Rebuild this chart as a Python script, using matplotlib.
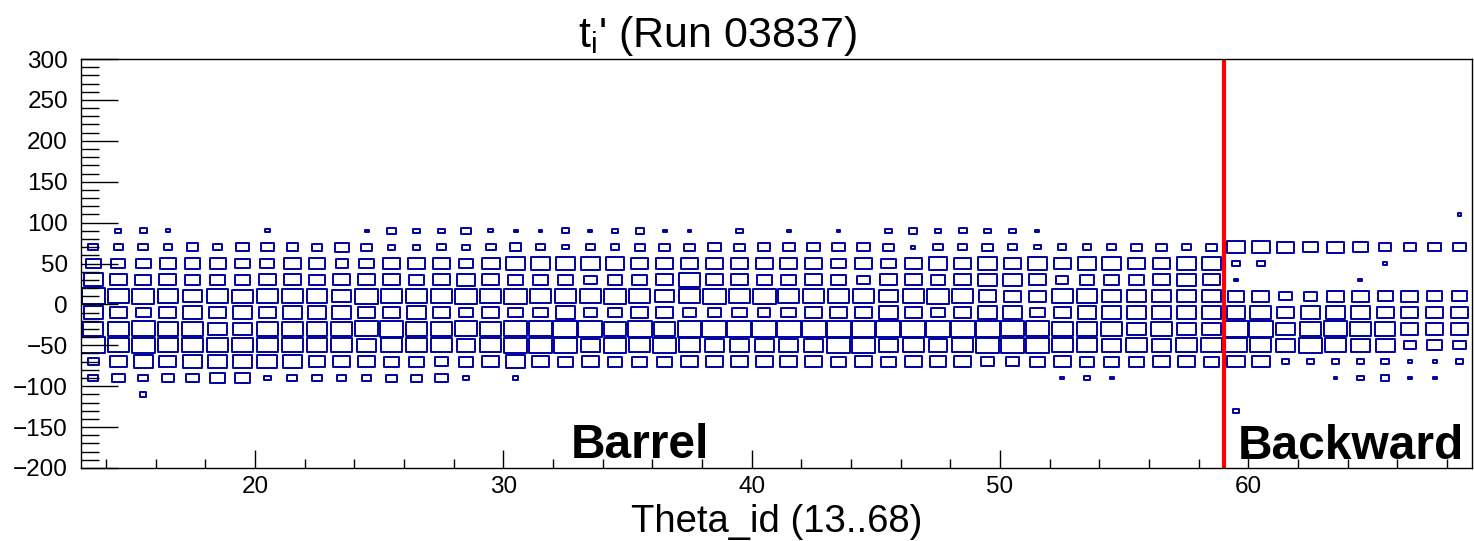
import numpy as np
import matplotlib
matplotlib.use("Agg")
import matplotlib.pyplot as plt
from matplotlib.patches import Rectangle
from matplotlib.collections import PatchCollection
from matplotlib.ticker import MultipleLocator

plt.rcParams["font.family"] = ["Liberation Sans", "DejaVu Sans"]
plt.rcParams["mathtext.fontset"] = "custom"
plt.rcParams["mathtext.rm"] = "Liberation Sans"
plt.rcParams["mathtext.it"] = "Liberation Sans:italic"

# theta_id bins 13..68, t' bins of width 20 (centres below)
theta_ids = np.arange(13, 69)
t_centers = [110, 90, 70, 50, 30, 10, -10, -30, -50, -70, -90, -110, -130]

# relative bin contents (percent of max), one list per t' row, theta 13..68
row_p110 = [0] * 55 + [15]
row_p90 = [0, 25, 28, 18, 0, 0, 0, 18, 0, 0,
           0, 15, 38, 27, 27, 38, 20, 15, 15, 30,
           15, 27, 35, 15, 15, 0, 27, 0, 15, 0,
           15, 0, 27, 35, 27, 30, 27, 27, 15, 0,
           0, 0, 0, 0, 0, 0, 0, 0, 0, 0,
           0, 0, 0, 0, 0, 0]
row_p70 = [40, 35, 40, 35, 45, 35, 50, 50, 45, 43,
           54, 43, 30, 30, 35, 30, 38, 46, 34, 27,
           35, 35, 43, 43, 43, 51, 43, 51, 51, 51,
           51, 51, 43, 19, 38, 35, 43, 35, 27, 35,
           35, 35, 43, 43, 35, 43, 70, 70, 68, 60,
           68, 60, 51, 51, 51, 51]
row_p50 = [60, 55, 60, 62, 62, 65, 60, 57, 68, 68,
           49, 60, 68, 70, 68, 60, 70, 76, 76, 76,
           76, 76, 68, 68, 68, 68, 68, 68, 68, 68,
           60, 68, 60, 68, 76, 68, 76, 68, 76, 68,
           76, 76, 68, 68, 76, 76, 35, 30, 0, 0,
           0, 0, 15, 0, 0, 0]
row_p30 = [78, 68, 62, 68, 60, 60, 58, 68, 68, 65,
           68, 68, 68, 60, 68, 76, 68, 60, 62, 60,
           51, 60, 60, 68, 84, 68, 68, 60, 60, 68,
           60, 51, 68, 68, 60, 68, 76, 76, 68, 51,
           60, 60, 60, 68, 76, 68, 15, 0, 0, 0,
           0, 15, 0, 0, 0, 0]
row_p10 = [95, 84, 90, 84, 75, 84, 82, 86, 84, 84,
           76, 90, 86, 84, 84, 90, 84, 92, 84, 84,
           84, 92, 84, 76, 84, 92, 84, 92, 84, 84,
           84, 84, 76, 84, 92, 84, 70, 68, 68, 84,
           84, 76, 76, 76, 76, 76, 68, 68, 51, 55,
           68, 68, 60, 68, 60, 60]
row_m10 = [77, 68, 60, 68, 76, 70, 76, 70, 76, 76,
           76, 68, 68, 76, 68, 60, 68, 60, 60, 76,
           51, 60, 68, 68, 51, 51, 60, 51, 60, 68,
           68, 68, 76, 68, 60, 68, 76, 76, 60, 68,
           76, 76, 76, 76, 76, 76, 76, 84, 68, 76,
           76, 76, 68, 68, 68, 68]
row_m30 = [81, 84, 92, 84, 84, 78, 78, 84, 84, 84,
           84, 92, 96, 86, 84, 92, 84, 92, 92, 96,
           96, 90, 96, 84, 96, 96, 96, 96, 96, 96,
           96, 96, 96, 96, 96, 96, 96, 92, 92, 84,
           84, 84, 76, 84, 76, 76, 96, 96, 76, 84,
           92, 84, 84, 68, 68, 68]
row_m50 = [96, 86, 92, 84, 86, 84, 86, 84, 84, 84,
           84, 76, 84, 84, 84, 76, 84, 92, 90, 92,
           76, 92, 84, 92, 84, 76, 76, 76, 76, 76,
           92, 92, 76, 84, 76, 84, 92, 92, 92, 84,
           84, 76, 84, 76, 84, 84, 86, 84, 76, 92,
           84, 76, 76, 51, 60, 51]
row_m70 = [43, 70, 76, 68, 76, 76, 76, 80, 76, 68,
           68, 68, 60, 60, 51, 60, 68, 76, 68, 60,
           68, 60, 60, 60, 68, 68, 68, 68, 68, 68,
           60, 68, 60, 68, 68, 68, 55, 51, 60, 68,
           60, 60, 60, 68, 68, 60, 70, 70, 30, 27,
           30, 27, 30, 15, 15, 27]
row_m90 = [40, 51, 40, 51, 54, 60, 60, 30, 40, 40,
           35, 35, 43, 43, 51, 22, 0, 22, 0, 0,
           0, 0, 0, 0, 0, 0, 0, 0, 0, 0,
           0, 0, 0, 0, 0, 0, 0, 0, 0, 15,
           27, 15, 0, 0, 0, 0, 0, 0, 0, 0,
           15, 27, 35, 18, 18, 0]
row_m110 = [0, 0, 27] + [0] * 53
row_m130 = [0] * 46 + [22] + [0] * 9

rows = [row_p110, row_p90, row_p70, row_p50, row_p30, row_p10, row_m10,
        row_m30, row_m50, row_m70, row_m90, row_m110, row_m130]
zmax = 100.0
ybin = 20.0

fig = plt.figure(figsize=(14.74, 5.41), dpi=100)
ax = fig.add_axes([81 / 1474, 73 / 541, (1472 - 81) / 1474, 409 / 541])

boxes = []
for tc, row in zip(t_centers, rows):
    for th, c in zip(theta_ids, row):
        if c <= 0:
            continue
        f = c / zmax
        w, h = f * 1.0, f * ybin
        boxes.append(Rectangle((th + 0.5 - w / 2, tc - h / 2), w, h))
ax.add_collection(PatchCollection(boxes, facecolor="none", edgecolor="#0000a0",
                                  linewidth=1.4))

ax.axvline(59, color="#ff0000", lw=3)
ax.text(32.7, -188, "Barrel", fontsize=34.5, fontweight="bold", ha="left", va="baseline")
ax.text(59.56, -189, "Backward", fontsize=34.5, fontweight="bold", ha="left", va="baseline")

ax.set_xlim(13, 69)
ax.set_ylim(-200, 300)
ax.xaxis.set_major_locator(MultipleLocator(10))
ax.xaxis.set_minor_locator(MultipleLocator(2))
ax.yaxis.set_major_locator(MultipleLocator(50))
ax.yaxis.set_minor_locator(MultipleLocator(10))
ax.tick_params(which="both", direction="in", top=False, right=False, width=1.0,
               labelsize=17.5)
ax.xaxis.set_tick_params(which="major", length=12.7, pad=5.8)
ax.xaxis.set_tick_params(which="minor", length=6.5)
ax.yaxis.set_tick_params(which="major", length=26.6, pad=9.4)
ax.yaxis.set_tick_params(which="minor", length=13)
for s in ax.spines.values():
    s.set_linewidth(1.0)

fig.text(0.487, 0.913, r"t$_{\mathrm{i}}$' (Run 03837)", fontsize=31,
         ha="center", va="baseline")
fig.text(0.527, 0.0172, "Theta_id (13..68)", fontsize=27.5, ha="center", va="baseline")

fig.savefig("out.png", dpi=100)
